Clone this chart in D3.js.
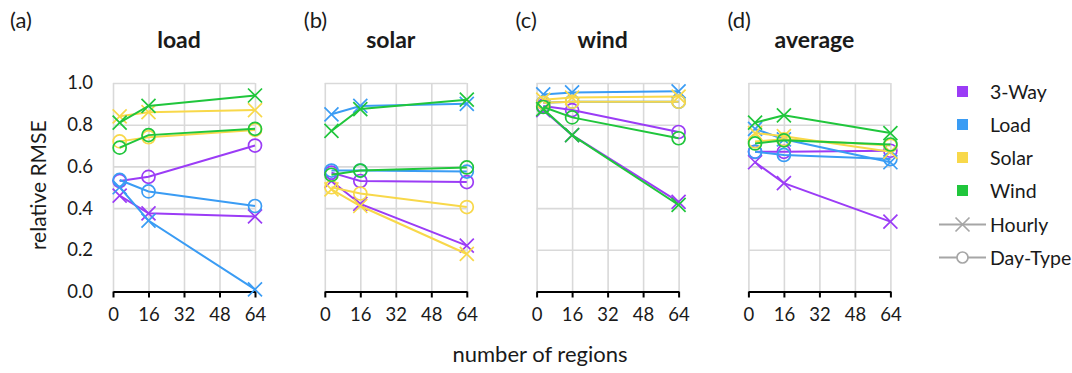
<!DOCTYPE html>
<html>
<head>
<meta charset="utf-8">
<script src="https://cdn.jsdelivr.net/npm/d3@7"></script>
<style>
  html, body { margin: 0; padding: 0; background: #fff; }
  svg { display: block; font-family: Lato, "Open Sans", sans-serif; }
</style>
</head>
<body>
<svg id="chart" width="1072" height="373"></svg>
<script>
// x positions: number of regions
const regions = [3, 16, 64];
const xTicks = [0, 16, 32, 48, 64];
const yTicks = [0, 0.2, 0.4, 0.6, 0.8, 1.0];

const panelTitles = ["load", "solar", "wind", "average"];
const panelTags = ["(a)", "(b)", "(c)", "(d)"];

const seriesNames = ["3-Way", "Load", "Solar", "Wind"];
const seriesColors = ["#9b3cf6", "#3a9cf4", "#f8d84a", "#20c63c"];

// relative RMSE, hourly models: [panel][series][region]
const hourlyLoad  = [[0.46, 0.375, 0.36], [0.50, 0.34, 0.01], [0.84, 0.86, 0.87], [0.81, 0.89, 0.94]];
const hourlySolar = [[0.53, 0.42, 0.22], [0.85, 0.89, 0.90], [0.49, 0.41, 0.18], [0.77, 0.875, 0.92]];
const hourlyWind  = [[0.87, 0.75, 0.43], [0.945, 0.955, 0.96], [0.92, 0.93, 0.935], [0.875, 0.75, 0.415]];
const hourlyAvg   = [[0.62, 0.52, 0.335], [0.78, 0.73, 0.62], [0.76, 0.745, 0.67], [0.81, 0.845, 0.76]];

// relative RMSE, day-type models
const dayLoad  = [[0.53, 0.55, 0.70], [0.535, 0.48, 0.41], [0.72, 0.74, 0.775], [0.69, 0.75, 0.78]];
const daySolar = [[0.57, 0.53, 0.525], [0.58, 0.58, 0.575], [0.50, 0.47, 0.405], [0.56, 0.58, 0.595]];
const dayWind  = [[0.89, 0.87, 0.765], [0.905, 0.91, 0.91], [0.905, 0.91, 0.91], [0.885, 0.835, 0.735]];
const dayAvg   = [[0.67, 0.67, 0.675], [0.67, 0.655, 0.635], [0.72, 0.73, 0.70], [0.71, 0.725, 0.705]];

const hourly = [hourlyLoad, hourlySolar, hourlyWind, hourlyAvg];
const dayType = [dayLoad, daySolar, dayWind, dayAvg];

const svg = d3.select("#chart");
const textColor = "#1a1a1a";

const plotTop = 83, plotBottom = 291.5;
const plotW = 142;
const panelLeft = i => 113 + i * 211.8;

const y = d3.scaleLinear().domain([0, 1]).range([plotBottom, plotTop]);
const x = d3.scaleLinear().domain([0, 64]).range([0, plotW]);

const line = d3.line().x(d => x(d[0])).y(d => y(d[1]));

function drawCross(g, cx, cy, color) {
  const s = 7;
  g.append("path")
    .attr("d", `M${cx - s},${cy - s}L${cx + s},${cy + s}M${cx - s},${cy + s}L${cx + s},${cy - s}`)
    .attr("stroke", color).attr("stroke-width", 1.7).attr("fill", "none");
}
function drawCircle(g, cx, cy, color) {
  g.append("circle").attr("cx", cx).attr("cy", cy).attr("r", 6.5)
    .attr("stroke", color).attr("stroke-width", 1.7).attr("fill", "none");
}

panelTitles.forEach((title, i) => {
  const g = svg.append("g").attr("transform", `translate(${panelLeft(i)},0)`);

  // horizontal gridlines
  g.append("g")
    .call(d3.axisLeft(y).tickValues(yTicks).tickSize(-plotW).tickFormat(""))
    .call(a => a.select(".domain").remove())
    .call(a => a.selectAll("line").attr("stroke", "#d9d9d9").attr("stroke-width", 1.6));

  // vertical gridlines
  g.append("g").attr("transform", `translate(0,${plotTop})`)
    .call(d3.axisBottom(x).tickValues(xTicks).tickSize(plotBottom - plotTop).tickFormat(""))
    .call(a => a.select(".domain").remove())
    .call(a => a.selectAll("line").attr("stroke", "#d9d9d9").attr("stroke-width", 1.6));

  // bottom axis
  const xa = g.append("g").attr("transform", `translate(0,${plotBottom})`)
    .call(d3.axisBottom(x).tickValues(xTicks).tickSize(6).tickSizeOuter(0).tickPadding(10));
  xa.select(".domain").attr("stroke", "#000").attr("stroke-width", 2);
  xa.selectAll("line").attr("stroke", "#000").attr("stroke-width", 2);
  xa.selectAll("text").attr("font-size", 18.5).attr("fill", textColor).attr("font-family", "Lato, sans-serif");

  if (i === 0) {
    const ya = g.append("g")
      .call(d3.axisLeft(y).tickValues(yTicks).tickSize(0).tickPadding(20).tickFormat(d3.format(".1f")));
    ya.select(".domain").remove();
    ya.selectAll("text").attr("font-size", 18.5).attr("fill", textColor).attr("font-family", "Lato, sans-serif");
    g.append("text")
      .attr("transform", `translate(-67,${(plotTop + plotBottom) / 2 - 2}) rotate(-90)`)
      .attr("text-anchor", "middle").attr("font-size", 21).attr("fill", textColor)
      .text("relative RMSE");
  }

  // panel title and tag
  g.append("text").attr("x", plotW / 2 - 5).attr("y", 48).attr("text-anchor", "middle")
    .attr("font-size", 23).attr("font-weight", "bold").attr("fill", textColor).text(title);
  g.append("text").attr("x", i === 0 ? -103 : -21).attr("y", 28)
    .attr("font-size", 22).attr("fill", textColor).text(panelTags[i]);

  // series lines and markers
  seriesNames.forEach((s, k) => {
    const color = seriesColors[k];
    const hPts = regions.map((r, j) => [r, hourly[i][k][j]]);
    const dPts = regions.map((r, j) => [r, dayType[i][k][j]]);
    g.append("path").datum(hPts).attr("d", line)
      .attr("stroke", color).attr("stroke-width", 2).attr("fill", "none");
    hPts.forEach(p => drawCross(g, x(p[0]), y(p[1]), color));
    g.append("path").datum(dPts).attr("d", line)
      .attr("stroke", color).attr("stroke-width", 2).attr("fill", "none");
    dPts.forEach(p => drawCircle(g, x(p[0]), y(p[1]), color));
  });
});

// shared x-axis title
svg.append("text").attr("x", 540).attr("y", 362).attr("text-anchor", "middle")
  .attr("font-size", 22).attr("fill", textColor).text("number of regions");

// legend
const leg = svg.append("g");
seriesNames.forEach((s, k) => {
  const cy = 91.5 + k * 33;
  leg.append("rect").attr("x", 957).attr("y", cy - 5.5).attr("width", 11).attr("height", 11)
    .attr("fill", seriesColors[k]);
  leg.append("text").attr("x", 990).attr("y", cy + 7).attr("font-size", 19.5).attr("fill", textColor).text(s);
});
const styleNames = ["Hourly", "Day-Type"];
styleNames.forEach((s, k) => {
  const cy = 224.5 + k * 33;
  leg.append("line").attr("x1", 939).attr("x2", 986).attr("y1", cy).attr("y2", cy)
    .attr("stroke", "#a6a6a6").attr("stroke-width", 2);
  if (k === 0) drawCross(leg, 962.5, cy, "#a6a6a6");
  else {
    leg.append("circle").attr("cx", 962.5).attr("cy", cy).attr("r", 5.5)
      .attr("stroke", "#a6a6a6").attr("stroke-width", 1.7).attr("fill", "#fff");
  }
  leg.append("text").attr("x", 990).attr("y", cy + 7).attr("font-size", 19.5).attr("fill", textColor).text(s);
});
</script>
</body>
</html>
